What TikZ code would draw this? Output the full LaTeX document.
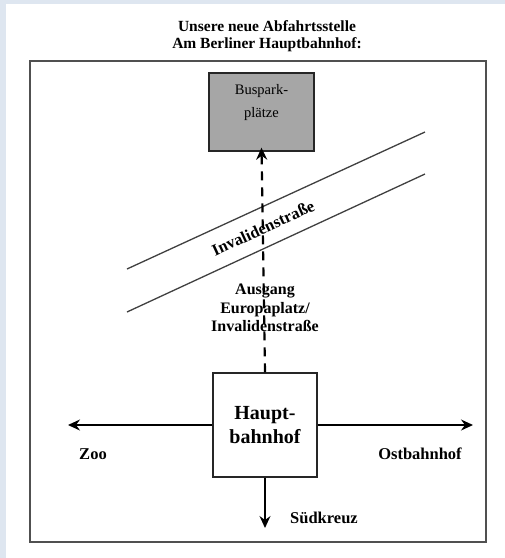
\documentclass[tikz,border=0pt]{standalone}
\usepackage{fontspec}
\setmainfont{Liberation Serif}
\usetikzlibrary{arrows.meta}
\definecolor{pagebg}{RGB}{222,230,240}
\definecolor{busgray}{RGB}{166,166,166}
\definecolor{framegray}{RGB}{80,80,80}
\tikzset{
  box/.style={draw=black!85, line width=1.4pt, align=center, inner sep=0pt},
  way/.style={line width=1.4pt, -{Stealth[length=12pt,width=11pt,inset=4pt]}},
  place/.style={font=\fontsize{16.5}{18}\selectfont\bfseries}
}
\begin{document}
\begin{tikzpicture}[x=1pt,y=-1pt]
\fill[pagebg] (0,0) rectangle (505,558);
\fill[white] (6,4) rectangle (505,558);
\useasboundingbox (0,0) rectangle (505,558);

\node[align=center, font=\fontsize{15.5}{17}\selectfont\bfseries] (title) at (267,36)
  {Unsere neue Abfahrtsstelle\\Am Berliner Hauptbahnhof:};
\draw[framegray, line width=2pt] (30,61) rectangle (486,542);

\node[box, fill=busgray, minimum width=105, minimum height=78,
  font=\fontsize{14.5}{23}\selectfont] (bus) at (261.5,112) {Buspark-\\plätze\\\mbox{}};
\node[box, minimum width=104, minimum height=104,
  font=\fontsize{20}{24}\selectfont\bfseries] (hbf) at (265,425) {Haupt-\\bahnhof};

\coordinate (r1a) at (127,269);
\coordinate (r1b) at (425,132);
\coordinate (r2a) at (127,312);
\coordinate (r2b) at (425,174);
\draw[black!75, line width=1.3pt] (r1a) -- (r1b);
\draw[black!75, line width=1.3pt] (r2a) -- (r2b);
\node[place, rotate=24.8] (strasse) at (263,228) {Invalidenstraße};

\node[place, align=center, font=\fontsize{16}{18.5}\selectfont\bfseries] (ausgang) at (265,308)
  {Ausgang\\Europaplatz/\\Invalidenstraße};

\draw[way, line width=2.2pt, dash pattern=on 9pt off 7pt] (hbf.north) -- ([yshift=4]bus.south);

\coordinate (west) at (68,425);
\coordinate (east) at (473,425);
\coordinate (south) at (265,528);
\draw[way] (hbf.west) -- (west);
\draw[way] (hbf.east) -- (east);
\draw[way] (hbf.south) -- (south);

\node[place] (zoo) at (93,454) {Zoo};
\node[place] (ost) at (420,454) {Ostbahnhof};
\node[place] (sued) at (324,518) {Südkreuz};
\end{tikzpicture}
\end{document}
